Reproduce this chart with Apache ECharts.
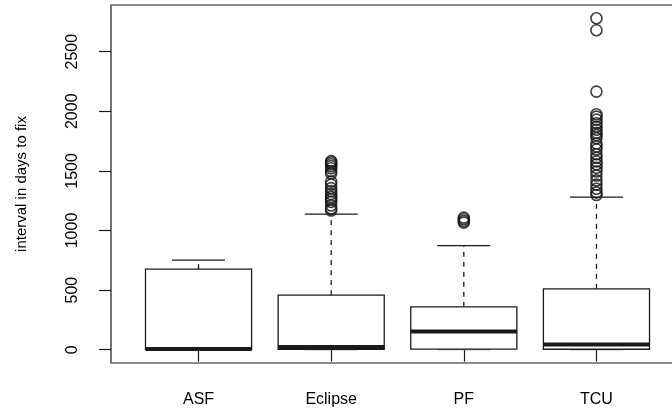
<!DOCTYPE html>
<html>
<head>
<meta charset="utf-8">
<script src="https://cdn.jsdelivr.net/npm/echarts@6/dist/echarts.min.js"></script>
<style>
html,body{margin:0;padding:0;background:#fff;}
#chart{width:672px;height:416px;}
</style>
</head>
<body>
<div id="chart"></div>
<script>
// ---- data ----
const categories = ['ASF', 'Eclipse', 'PF', 'TCU'];
const whiskerLow = [0, 0, 0, 0];
const q1 = [2, 3, 5, 4];
const medians = [6, 22, 153, 44];
const q3 = [676, 458, 360, 511];
const whiskerHigh = [751, 1138, 874, 1280];
const outliersASF = [];
const outliersEclipse = [1582, 1570, 1556, 1540, 1522, 1498, 1478, 1410, 1385, 1355, 1330, 1305, 1282, 1262, 1240, 1210, 1185, 1168];
const outliersPF = [1108, 1094, 1080, 1066];
const outliersTCU = [2780, 2680, 2165, 1975, 1955, 1930, 1900, 1870, 1845, 1820, 1800, 1775, 1730, 1705, 1680, 1640, 1610, 1580, 1555, 1525, 1495, 1460, 1420, 1385, 1350, 1320, 1298];
const yTicks = [0, 500, 1000, 1500, 2000, 2500];
const xTicks = [1, 2, 3, 4];

// ---- build ----
const boxData = categories.map((c, i) => [i + 1, whiskerLow[i], q1[i], medians[i], q3[i], whiskerHigh[i]]);
const outlierGroups = [outliersASF, outliersEclipse, outliersPF, outliersTCU];
const outlierData = [];
outlierGroups.forEach((arr, i) => arr.forEach(v => outlierData.push([i + 1, v])));

const lineColor = '#1a1a1a';
const font = 'Liberation Sans, Arial, sans-serif';

function renderBox(params, api) {
  const x = api.value(0);
  const pLo = api.coord([x, api.value(1)]);
  const pQ1 = api.coord([x, api.value(2)]);
  const pMd = api.coord([x, api.value(3)]);
  const pQ3 = api.coord([x, api.value(4)]);
  const pHi = api.coord([x, api.value(5)]);
  const bw = api.size([0.8, 0])[0];
  const sw = bw / 2;
  const cx = pMd[0];
  const stroke = {stroke: lineColor, lineWidth: 1.3, fill: null};
  const dashed = {stroke: lineColor, lineWidth: 1.3, lineDash: [5, 5], fill: null};
  return {
    type: 'group',
    children: [
      {type: 'line', shape: {x1: cx, y1: pQ3[1], x2: cx, y2: pHi[1]}, style: dashed},
      {type: 'line', shape: {x1: cx, y1: pQ1[1], x2: cx, y2: pLo[1]}, style: dashed},
      {type: 'line', shape: {x1: cx - sw / 2, y1: pHi[1], x2: cx + sw / 2, y2: pHi[1]}, style: stroke},
      {type: 'line', shape: {x1: cx - sw / 2, y1: pLo[1], x2: cx + sw / 2, y2: pLo[1]}, style: {stroke: '#777', lineWidth: 1.2}},
      {type: 'rect', shape: {x: cx - bw / 2, y: pQ3[1], width: bw, height: pQ1[1] - pQ3[1]}, style: {stroke: lineColor, lineWidth: 1.3, fill: '#fff'}},
      {type: 'line', shape: {x1: cx - bw / 2, y1: pMd[1], x2: cx + bw / 2, y2: pMd[1]}, style: {stroke: lineColor, lineWidth: 4}}
    ]
  };
}

const chart = echarts.init(document.getElementById('chart'), null, {renderer: 'canvas'});
chart.setOption({
  animation: false,
  backgroundColor: '#fff',
  grid: {left: 111, width: 573, top: 5, bottom: 53, show: true, borderColor: lineColor, borderWidth: 1.2,
         backgroundColor: 'transparent', containLabel: false, outerBoundsMode: 'none'},
  xAxis: {
    type: 'value', min: 0.34, max: 4.66,
    splitLine: {show: false},
    axisLine: {show: false},
    axisTick: {show: true, length: 12, inside: false, customValues: xTicks, lineStyle: {color: lineColor, width: 1.2}},
    axisLabel: {
      customValues: xTicks, margin: 29,
      formatter: v => categories[Math.round(v) - 1] || '',
      fontFamily: font, fontSize: 16, color: '#000'
    }
  },
  yAxis: {
    type: 'value', min: -111.2, max: 2891.2,
    name: 'interval in days to fix', nameLocation: 'middle', nameRotate: 90, nameGap: 82,
    nameTextStyle: {fontFamily: font, fontSize: 15, color: '#000'},
    splitLine: {show: false},
    axisLine: {show: false},
    axisTick: {show: true, length: 12, customValues: yTicks, lineStyle: {color: lineColor, width: 1.2}},
    axisLabel: {
      customValues: yTicks, rotate: 90, margin: 30,
      formatter: v => String(v),
      fontFamily: font, fontSize: 16, color: '#000'
    }
  },
  series: [
    {type: 'custom', renderItem: renderBox, data: boxData, encode: {x: 0, y: [1, 2, 3, 4, 5]}, z: 2},
    {type: 'scatter', data: outlierData, symbol: 'circle', symbolSize: 11,
     itemStyle: {color: 'transparent', borderColor: '#111', borderWidth: 1.6}, z: 3}
  ]
});
</script>
</body>
</html>
